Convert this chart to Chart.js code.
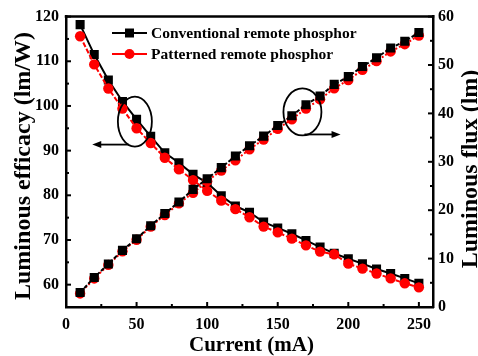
<!DOCTYPE html>
<html>
<head>
<meta charset="utf-8">
<script src="https://cdn.jsdelivr.net/npm/chart.js@4/dist/chart.umd.min.js"></script>
<style>
  html, body { margin: 0; padding: 0; background: #fff; }
  #wrap { width: 478px; height: 356px; }
</style>
</head>
<body>
<div id="wrap"><canvas id="c" width="478" height="356"></canvas></div>
<script>
// data
const current = [10, 20, 30, 40, 50, 60, 70, 80, 90, 100, 110, 120, 130, 140, 150, 160, 170, 180, 190, 200, 210, 220, 230, 240, 250];
const efficacyConv = [118.2, 111.5, 105.8, 101.0, 97.0, 93.2, 89.5, 87.3, 84.7, 82.8, 79.9, 77.6, 76.2, 74.0, 72.7, 71.4, 69.9, 68.4, 67.0, 65.8, 64.7, 63.5, 62.5, 61.4, 60.3];
const efficacyPat = [115.6, 109.3, 103.9, 99.4, 95.0, 91.7, 88.4, 85.8, 83.4, 81.0, 78.8, 76.9, 75.1, 73.0, 71.7, 70.3, 68.8, 67.4, 66.8, 64.7, 63.6, 62.5, 61.4, 60.3, 59.4];
const fluxConv = [3.0, 6.1, 8.9, 11.7, 14.1, 16.8, 19.3, 21.7, 24.3, 26.5, 28.8, 31.2, 33.3, 35.3, 37.5, 39.5, 41.8, 43.6, 46.0, 47.6, 49.7, 51.5, 53.5, 54.9, 56.7];
const fluxPat = [2.8, 5.9, 8.7, 11.5, 13.9, 16.6, 19.0, 21.4, 23.6, 26.0, 28.2, 30.3, 32.6, 34.6, 36.8, 38.8, 41.0, 42.9, 45.2, 46.9, 49.0, 50.8, 52.8, 54.3, 56.1];
const legendLabels = ['Conventional remote phosphor', 'Patterned remote phosphor'];
const xTicks = [0, 50, 100, 150, 200, 250];
const effTicks = [60, 70, 80, 90, 100, 110, 120];
const fluxTicks = [0, 10, 20, 30, 40, 50, 60];

const FONT = '"Liberation Serif", "Times New Roman", serif';
const BLACK = '#000000';
const RED = '#ff0000';

const pts = (ys) => current.map((x, i) => ({ x: x, y: ys[i] }));

function series(ys, color, style, radius, axis, dash, order) {
  return {
    data: pts(ys),
    yAxisID: axis,
    borderColor: color,
    backgroundColor: color,
    pointBackgroundColor: color,
    pointBorderColor: color,
    pointStyle: style,
    pointRadius: radius,
    pointBorderWidth: 0,
    borderWidth: 2,
    borderDash: dash,
    tension: 0,
    order: order
  };
}

// inward ticks, frame top, titles, legend and the two callouts
const decor = {
  id: 'decor',
  afterDraw(chart) {
    const ctx = chart.ctx;
    const a = chart.chartArea;
    const sx = chart.scales.x, sl = chart.scales.yL, sr = chart.scales.yR;
    ctx.save();
    ctx.strokeStyle = BLACK;
    ctx.fillStyle = BLACK;

    // top frame
    ctx.lineWidth = 2.5;
    ctx.beginPath();
    ctx.moveTo(a.left - 1.25, a.top);
    ctx.lineTo(a.right + 1.25, a.top);
    ctx.stroke();

    // ticks pointing into the plot
    ctx.lineWidth = 2;
    const tickSet = (scale, draw) => {
      const vals = scale.ticks.map(t => t.value);
      vals.forEach((v, i) => {
        draw(scale.getPixelForValue(v), 5);
        if (i < vals.length - 1) draw(scale.getPixelForValue((v + vals[i + 1]) / 2), 3);
      });
    };
    tickSet(sx, (p, len) => { ctx.beginPath(); ctx.moveTo(p, a.bottom); ctx.lineTo(p, a.bottom - len); ctx.stroke(); });
    tickSet(sl, (p, len) => { ctx.beginPath(); ctx.moveTo(a.left, p); ctx.lineTo(a.left + len, p); ctx.stroke(); });
    tickSet(sr, (p, len) => { ctx.beginPath(); ctx.moveTo(a.right, p); ctx.lineTo(a.right - len, p); ctx.stroke(); });

    // axis titles
    ctx.textAlign = 'center';
    ctx.textBaseline = 'alphabetic';
    ctx.font = 'bold 21px ' + FONT;
    ctx.fillText('Current (mA)', (a.left + a.right) / 2 + 2, 351);
    ctx.font = 'bold 24px ' + FONT;
    ctx.save();
    ctx.translate(30, 166);
    ctx.rotate(-Math.PI / 2);
    ctx.fillText('Luminous efficacy (lm/W)', 0, 0);
    ctx.restore();
    ctx.save();
    ctx.translate(477, 169);
    ctx.rotate(-Math.PI / 2);
    ctx.fillText('Luminous flux (lm)', 0, 0);
    ctx.restore();

    // legend
    ctx.textAlign = 'left';
    ctx.textBaseline = 'middle';
    ctx.font = 'bold 15.5px ' + FONT;
    const rows = [
      { y: 33, color: BLACK, shape: 'rect', text: legendLabels[0] },
      { y: 54, color: RED, shape: 'circle', text: legendLabels[1] }
    ];
    rows.forEach(r => {
      ctx.strokeStyle = r.color;
      ctx.fillStyle = r.color;
      ctx.lineWidth = 2;
      ctx.beginPath();
      ctx.moveTo(112, r.y);
      ctx.lineTo(147, r.y);
      ctx.stroke();
      ctx.beginPath();
      if (r.shape === 'rect') ctx.rect(125, r.y - 4.5, 9, 9);
      else ctx.arc(129.5, r.y, 5, 0, Math.PI * 2);
      ctx.fill();
      ctx.fillStyle = BLACK;
      ctx.fillText(r.text, 151, r.y + 1);
    });

    // callout ellipses with arrows
    ctx.strokeStyle = BLACK;
    ctx.fillStyle = BLACK;
    ctx.lineWidth = 1.8;
    const arrow = (x0, y0, x1, y1) => {
      const dir = Math.sign(x1 - x0);
      ctx.beginPath();
      ctx.moveTo(x0, y0);
      ctx.lineTo(x1 - dir * 6, y1);
      ctx.stroke();
      ctx.beginPath();
      ctx.moveTo(x1, y1);
      ctx.lineTo(x1 - dir * 9, y1 - 3.5);
      ctx.lineTo(x1 - dir * 9, y1 + 3.5);
      ctx.closePath();
      ctx.fill();
    };
    const lx = sx.getPixelForValue(48.8), ly = sl.getPixelForValue(96.5);
    ctx.beginPath();
    ctx.ellipse(lx, ly, 17, 25, 0, 0, Math.PI * 2);
    ctx.stroke();
    arrow(lx - 6, ly + 23, sx.getPixelForValue(18.6), ly + 23);
    const rx = sx.getPixelForValue(167.5), ry = sr.getPixelForValue(40.3);
    ctx.beginPath();
    ctx.ellipse(rx, ry, 19, 23.5, 0, 0, Math.PI * 2);
    ctx.stroke();
    arrow(rx + 2, ry + 22.5, sx.getPixelForValue(194.5), ry + 22.5);

    ctx.restore();
  }
};

const tickFont = { family: FONT, size: 16, weight: 'bold' };
const useTicks = (list) => (s) => { s.ticks = list.map(v => ({ value: v })); };

new Chart(document.getElementById('c'), {
  type: 'line',
  data: {
    datasets: [
      series(efficacyConv, BLACK, 'rect', 6.4, 'yL', [], 3),
      series(efficacyPat, RED, 'circle', 5.2, 'yL', [5, 2], 2),
      series(fluxPat, RED, 'circle', 5.2, 'yR', [2, 2], 1),
      series(fluxConv, BLACK, 'rect', 6.4, 'yR', [4, 2], 0)
    ]
  },
  options: {
    responsive: false,
    animation: false,
    layout: { padding: { top: 13, left: 0, right: 0, bottom: 0 } },
    plugins: { legend: { display: false }, tooltip: { enabled: false } },
    scales: {
      x: {
        type: 'linear',
        min: 0, max: 260,
        afterBuildTicks: useTicks(xTicks),
        afterFit: s => { s.height = 49; },
        grid: { display: false, drawTicks: false },
        border: { display: true, color: BLACK, width: 2.5 },
        ticks: { color: BLACK, font: tickFont, padding: 8, maxRotation: 0, autoSkip: false }
      },
      yL: {
        type: 'linear', position: 'left',
        min: 55, max: 120,
        afterBuildTicks: useTicks(effTicks),
        afterFit: s => { s.width = 66; },
        grid: { display: false, drawTicks: false },
        border: { display: true, color: BLACK, width: 2.5 },
        ticks: { color: BLACK, font: tickFont, padding: 7, autoSkip: false }
      },
      yR: {
        type: 'linear', position: 'right',
        min: 0, max: 60,
        afterBuildTicks: useTicks(fluxTicks),
        afterFit: s => { s.width = 45; },
        grid: { display: false, drawTicks: false },
        border: { display: true, color: BLACK, width: 2.5 },
        ticks: { color: BLACK, font: tickFont, padding: 5, autoSkip: false }
      }
    }
  },
  plugins: [decor]
});
</script>
</body>
</html>
